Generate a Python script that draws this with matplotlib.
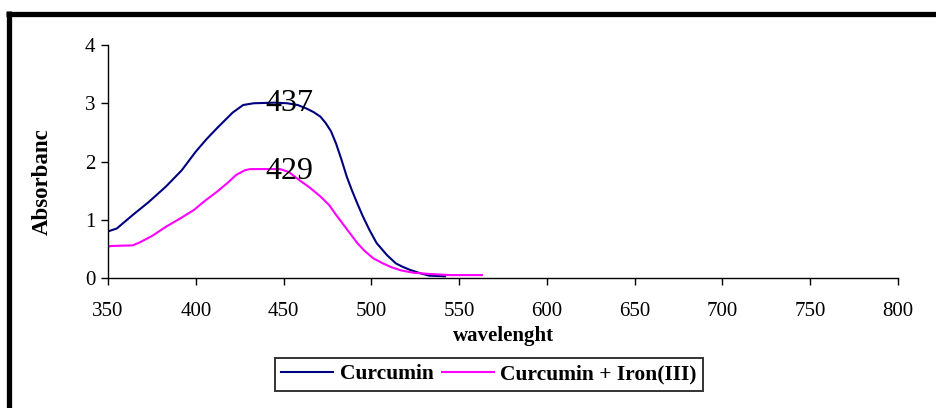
import matplotlib
matplotlib.use("Agg")
import matplotlib.pyplot as plt
from matplotlib.lines import Line2D

plt.rcParams['font.family'] = ['Liberation Serif', 'DejaVu Serif']

# Curcumin
wl_cur = [350, 355, 364, 373, 383, 392, 400, 406, 412, 417, 421, 427, 433, 445, 452,
          458, 463, 467, 471, 474, 477, 480, 483, 486, 489, 492, 495, 499, 503, 509,
          514, 518, 522, 528, 533, 542]
abs_cur = [0.80, 0.85, 1.08, 1.30, 1.57, 1.85, 2.17, 2.38, 2.57, 2.72, 2.84, 2.97, 3.00,
           3.01, 3.00, 2.97, 2.91, 2.85, 2.77, 2.66, 2.52, 2.30, 2.03, 1.74, 1.50, 1.28,
           1.07, 0.82, 0.60, 0.39, 0.25, 0.19, 0.14, 0.08, 0.04, 0.03]

# Curcumin + Iron(III)
wl_fe = [350, 352, 364, 368, 375, 383, 391, 399, 405, 412, 418, 423, 428, 431, 448,
         453, 459, 465, 471, 476, 480, 484, 488, 492, 496, 501, 506, 511, 517, 524,
         533, 545, 563]
abs_fe = [0.54, 0.55, 0.56, 0.61, 0.72, 0.88, 1.02, 1.17, 1.32, 1.48, 1.63, 1.77, 1.85,
          1.87, 1.87, 1.82, 1.68, 1.55, 1.40, 1.25, 1.08, 0.92, 0.76, 0.60, 0.47, 0.34,
          0.26, 0.19, 0.13, 0.09, 0.07, 0.05, 0.05]

x_ticks = [350, 400, 450, 500, 550, 600, 650, 700, 750, 800]
y_ticks = [0, 1, 2, 3, 4]
series_names = ["Curcumin", "Curcumin + Iron(III)"]
peak_labels = ["437", "429"]
peak_pos = [(453.5, 3.0), (453.5, 1.82)]

fig = plt.figure(figsize=(9.36, 4.08), dpi=100)
ax = fig.add_axes([0.1154, 0.3186, 0.8440, 0.5711])

ax.plot(wl_cur, abs_cur, color='#000080', lw=1.5, label=series_names[0])
ax.plot(wl_fe, abs_fe, color='#FF00FF', lw=1.5, label=series_names[1])

for lab, (px, py) in zip(peak_labels, peak_pos):
    ax.text(px, py, lab, fontsize=23, ha='center', va='center', color='black')

ax.set_xlim(350, 800)
ax.set_ylim(0, 4)
ax.set_xticks(x_ticks)
ax.set_yticks(y_ticks)
ax.tick_params(direction='out', length=5, width=1, labelsize=15, colors='black')
ax.tick_params(axis='x', pad=12)
ax.tick_params(axis='y', pad=4)
for s in ['top', 'right']:
    ax.spines[s].set_visible(False)
for s in ['left', 'bottom']:
    ax.spines[s].set_linewidth(1)
ax.set_xlabel('wavelenght', fontsize=15, fontweight='bold', labelpad=4)

# clipped y label
fig.text(0.0449, 0.555, 'Absorbanc', rotation=90, fontsize=16.5, fontweight='bold',
         ha='center', va='center')

leg = fig.legend(loc='center', bbox_to_anchor=(0.5225, 0.0833), ncol=2,
                 prop={'size': 15.5, 'weight': 'bold'}, handlelength=2.4,
                 frameon=True, fancybox=False, borderpad=0.3, columnspacing=0.4,
                 handletextpad=0.3, borderaxespad=0)
leg.get_frame().set_edgecolor('black')
leg.get_frame().set_linewidth(1.4)

# thick outer border (top and left)
fig.add_artist(Line2D([6/936, 1.0], [1 - 13.5/408, 1 - 13.5/408], color='black', lw=3.8,
                      transform=fig.transFigure, solid_capstyle='butt'))
fig.add_artist(Line2D([8.5/936, 8.5/936], [0, 1 - 11/408], color='black', lw=3.8,
                      transform=fig.transFigure, solid_capstyle='butt'))

fig.savefig('out.png', dpi=100)
